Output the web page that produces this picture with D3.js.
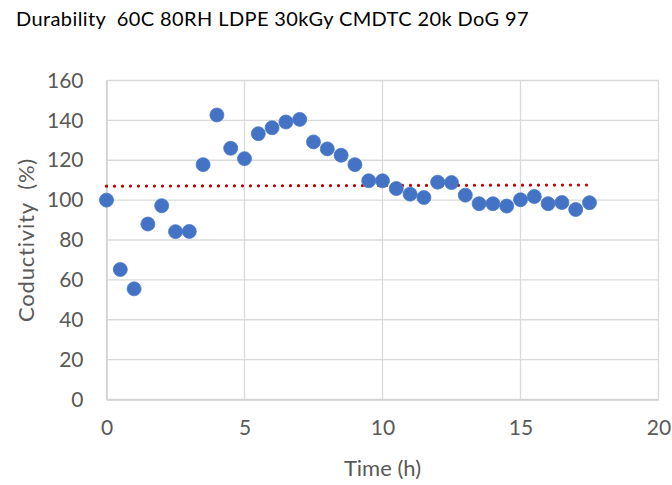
<!DOCTYPE html>
<html>
<head>
<meta charset="utf-8">
<script src="https://cdn.jsdelivr.net/npm/d3@7"></script>
<style>
  html, body { margin: 0; padding: 0; background: #fff; }
  svg { display: block; }
  text { font-family: Lato, "Open Sans", sans-serif; white-space: pre; }
</style>
</head>
<body>
<svg id="chart" width="672" height="485"></svg>
<script>
const titleText = "Durability  60C 80RH LDPE 30kGy CMDTC 20k DoG 97";
const xTitle = "Time (h)";
const yTitle = "Coductivity  (%)";

const timeHours = [0, 0.5, 1, 1.5, 2, 2.5, 3, 3.5, 4, 4.5, 5, 5.5, 6, 6.5, 7, 7.5, 8, 8.5,
                   9, 9.5, 10, 10.5, 11, 11.5, 12, 12.5, 13, 13.5, 14, 14.5, 15, 15.5, 16, 16.5, 17, 17.5];
const conductivity = [100, 65.2, 55.5, 88, 97.2, 84.2, 84.3, 117.8, 142.7, 126, 120.8, 133.3, 136.3, 139.2, 140.5, 129.2, 125.7, 122.5,
                      117.8, 109.7, 109.7, 105.8, 103, 101.3, 109, 108.8, 102.5, 98.2, 98.2, 97, 100.2, 101.8, 98.2, 98.8, 95.3, 98.7];

const trendX = [0, 17.5];
const trendY = [107.0, 107.6];

const xTicks = [0, 5, 10, 15, 20];
const yTicks = [0, 20, 40, 60, 80, 100, 120, 140, 160];

const svg = d3.select("#chart");
const plot = { left: 106.5, right: 658.5, top: 80.5, bottom: 399.5 };

const x = d3.scaleLinear().domain([0, 20]).range([plot.left, plot.right]);
const y = d3.scaleLinear().domain([0, 160]).range([plot.bottom, plot.top]);

// gridlines
const g = svg.append("g");
g.selectAll(".hg").data(yTicks).enter().append("line")
  .attr("x1", plot.left).attr("x2", plot.right)
  .attr("y1", d => y(d)).attr("y2", d => y(d))
  .attr("stroke", "#d9d9d9").attr("stroke-width", 1.3);
g.selectAll(".vg").data(xTicks).enter().append("line")
  .attr("y1", plot.top).attr("y2", plot.bottom)
  .attr("x1", d => x(d)).attr("x2", d => x(d))
  .attr("stroke", "#d9d9d9").attr("stroke-width", 1.3);

// axes
const xAxis = d3.axisBottom(x).tickValues(xTicks).tickSize(0).tickPadding(21);
const yAxis = d3.axisLeft(y).tickValues(yTicks).tickSize(0).tickPadding(23);
const xg = svg.append("g").attr("transform", `translate(0,${plot.bottom})`).call(xAxis);
const yg = svg.append("g").attr("transform", `translate(${plot.left},0)`).call(yAxis);
[xg, yg].forEach(a => {
  a.select(".domain").attr("stroke", "#d0d0d0").attr("stroke-width", 1.5);
  a.selectAll("text").attr("fill", "#595959").style("font-size", "21px")
   .style("font-family", "Lato, 'Open Sans', sans-serif");
});

// trendline
const line = d3.line().x(d => x(d[0])).y(d => y(d[1]));
svg.append("path")
  .datum(trendX.map((t, i) => [t, trendY[i]]))
  .attr("d", line)
  .attr("fill", "none")
  .attr("stroke", "#c00000")
  .attr("stroke-width", 3.2)
  .attr("stroke-linecap", "round")
  .attr("stroke-dasharray", "0 8");

// points
svg.append("g").selectAll("circle")
  .data(timeHours.map((t, i) => [t, conductivity[i]]))
  .enter().append("circle")
  .attr("cx", d => x(d[0])).attr("cy", d => y(d[1]))
  .attr("r", 7)
  .attr("fill", "#4472c4")
  .attr("stroke", "#4a78c8").attr("stroke-width", 0.8);

// titles
svg.append("text").attr("x", 16).attr("y", 26)
  .attr("fill", "#000").style("font-size", "20px").style("letter-spacing", "0.4px").text(titleText);
svg.append("text").attr("x", (plot.left + plot.right) / 2).attr("y", 476)
  .attr("text-anchor", "middle").attr("fill", "#595959").style("font-size", "22px").text(xTitle);
svg.append("text")
  .attr("transform", `translate(34,${(plot.top + plot.bottom) / 2}) rotate(-90)`)
  .attr("text-anchor", "middle").attr("fill", "#595959").style("font-size", "22px")
  .style("letter-spacing", "0.8px").text(yTitle);
</script>
</body>
</html>
